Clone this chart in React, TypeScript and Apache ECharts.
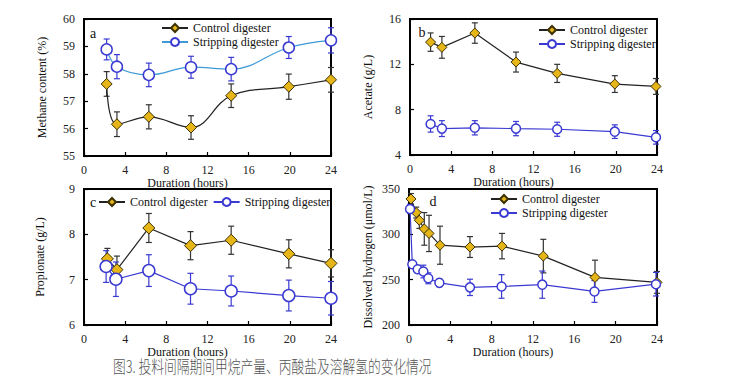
import React, { useEffect, useRef } from "react";
import * as echarts from "echarts";

// ---- Data ----
const xTicks = [0, 4, 8, 12, 16, 20, 24];

// Panel a: methane content (%)
const methaneCtrlX = [2.2, 3.2, 6.3, 10.4, 14.3, 19.9, 24];
const methaneCtrl = [57.63, 56.16, 56.43, 56.04, 57.2, 57.53, 57.78];
const methaneCtrlErr = [0.45, 0.45, 0.44, 0.43, 0.43, 0.46, 0.45];
const methaneStripX = [2.2, 3.2, 6.3, 10.4, 14.3, 19.9, 24];
const methaneStrip = [58.89, 58.26, 57.96, 58.24, 58.17, 58.96, 59.22];
const methaneStripErr = [0.38, 0.44, 0.43, 0.4, 0.43, 0.4, 0.46];

// Panel b: acetate (g/L)
const acetateCtrlX = [2.0, 3.1, 6.3, 10.3, 14.3, 19.9, 23.9];
const acetateCtrl = [13.96, 13.5, 14.76, 12.2, 11.2, 10.26, 10.05];
const acetateCtrlErr = [0.81, 0.96, 0.9, 0.88, 0.8, 0.74, 0.7];
const acetateStripX = [2.0, 3.1, 6.3, 10.3, 14.3, 19.9, 23.9];
const acetateStrip = [6.74, 6.33, 6.4, 6.33, 6.27, 6.06, 5.56];
const acetateStripErr = [0.72, 0.7, 0.63, 0.63, 0.62, 0.6, 0.6];

// Panel c: propionate (g/L)
const propCtrlX = [2.27, 3.2, 6.3, 10.35, 14.3, 19.9, 24];
const propCtrl = [7.46, 7.22, 8.14, 7.75, 7.87, 7.57, 7.36];
const propCtrlErr = [0.23, 0.3, 0.32, 0.31, 0.31, 0.31, 0.3];
const propStripX = [2.15, 3.1, 6.3, 10.35, 14.3, 19.9, 24];
const propStrip = [7.29, 7.01, 7.2, 6.8, 6.75, 6.65, 6.59];
const propStripErr = [0.35, 0.38, 0.35, 0.34, 0.33, 0.34, 0.37];

// Panel d: dissolved hydrogen (umol/L)
const h2CtrlX = [0.19, 0.7, 1.0, 1.48, 1.94, 3.0, 5.9, 9.0, 13.0, 18.0, 24];
const h2Ctrl = [339, 324, 315.5, 306, 301, 288, 286, 287, 276, 252.5, 247];
const h2CtrlErr = [6, 6, 9, 18, 20, 21, 11.5, 14, 18.5, 19, 12];
const h2StripX = [0.1, 0.32, 0.84, 1.39, 1.87, 2.94, 5.9, 8.96, 12.9, 17.95, 23.9];
const h2Strip = [328, 267, 261.5, 259, 251.5, 246.5, 241.5, 242.5, 244.5, 237, 245];
const h2StripErr = [5, 3, 4, 7, 6, 4, 9, 13, 15, 12, 13];

const CTRL = "Control digester";
const STRIP = "Stripping digester";
const caption = "图3. 投料间隔期间甲烷产量、丙酸盐及溶解氢的变化情况";

const SERIF = "Liberation Serif";
const GOLD = "#e6b619";
const DIAMOND_BORDER = "#3b3000";
const BLUE = "#3a3ad2";
const LIGHTBLUE = "#3d9ad6";

const zip = (xs: number[], ys: number[]) => xs.map((x, i) => [x, ys[i]]);
const zip3 = (xs: number[], ys: number[], es: number[]) =>
  xs.map((x, i) => [x, ys[i], es[i]]);

function errSeries(idx: number, xs: number[], ys: number[], es: number[], color: string) {
  return {
    type: "custom",
    xAxisIndex: idx,
    yAxisIndex: idx,
    z: 1,
    silent: true,
    clip: false,
    encode: { x: 0, y: 1 },
    data: zip3(xs, ys, es),
    renderItem: (_p: any, api: any) => {
      const x = api.value(0);
      const y = api.value(1);
      const e = api.value(2);
      const lo = api.coord([x, y - e]);
      const hi = api.coord([x, y + e]);
      const cap = 3;
      const st = { stroke: color, lineWidth: 1.2 };
      return {
        type: "group",
        children: [
          { type: "line", shape: { x1: lo[0], y1: lo[1], x2: hi[0], y2: hi[1] }, style: st },
          { type: "line", shape: { x1: lo[0] - cap, y1: lo[1], x2: lo[0] + cap, y2: lo[1] }, style: st },
          { type: "line", shape: { x1: hi[0] - cap, y1: hi[1], x2: hi[0] + cap, y2: hi[1] }, style: st },
        ],
      };
    },
  };
}

function ctrlLine(idx: number, xs: number[], ys: number[], size: number, smooth: any) {
  return {
    name: CTRL,
    type: "line",
    xAxisIndex: idx,
    yAxisIndex: idx,
    z: 3,
    clip: false,
    smooth,
    symbol: "diamond",
    symbolSize: size,
    lineStyle: { color: "#222", width: 1.2 },
    itemStyle: { color: GOLD, borderColor: DIAMOND_BORDER, borderWidth: 1 },
    data: zip(xs, ys),
  };
}

function stripLine(idx: number, xs: number[], ys: number[], size: number, smooth: any, lineColor: string) {
  return {
    name: STRIP,
    type: "line",
    xAxisIndex: idx,
    yAxisIndex: idx,
    z: 3,
    clip: false,
    smooth,
    symbol: "circle",
    symbolSize: size,
    lineStyle: { color: lineColor, width: 1.2 },
    itemStyle: { color: "#fff", borderColor: BLUE, borderWidth: 1.5 },
    data: zip(xs, ys),
  };
}

function xAxisFor(idx: number) {
  return {
    type: "value",
    gridIndex: idx,
    min: 0,
    max: 24,
    interval: 4,
    name: "Duration (hours)",
    nameLocation: "middle",
    nameGap: 15,
    nameTextStyle: { fontFamily: SERIF, fontSize: 12, color: "#111", padding: [0, 40, 0, 0] },
    axisLine: { show: false },
    axisTick: { show: true, inside: true, length: 4, lineStyle: { color: "#000", width: 1.2 } },
    axisLabel: { fontFamily: SERIF, fontSize: 12, color: "#222", margin: 8 },
    splitLine: { show: false },
  };
}

function yAxisFor(idx: number, name: string, min: number, max: number, interval: number, gap: number) {
  return {
    type: "value",
    gridIndex: idx,
    min,
    max,
    interval,
    name,
    nameLocation: "middle",
    nameGap: gap,
    nameTextStyle: { fontFamily: SERIF, fontSize: 12, color: "#111" },
    axisLine: { show: false },
    axisTick: { show: true, inside: true, length: 4, lineStyle: { color: "#000", width: 1.2 } },
    axisLabel: { fontFamily: SERIF, fontSize: 12, color: "#222", margin: 9 },
    splitLine: { show: false },
  };
}

const gridBase = { show: true, borderColor: "#000", borderWidth: 2, backgroundColor: "transparent" };

function legendFor(left: number, top: number, orient: string, stripColor: string, gap: number) {
  return {
    left,
    top,
    orient,
    itemWidth: 26,
    itemHeight: 10,
    itemGap: gap,
    padding: 0,
    textStyle: { fontFamily: SERIF, fontSize: 12, color: "#111" },
    data: [
      { name: CTRL, lineStyle: { color: "#222" } },
      { name: STRIP, lineStyle: { color: stripColor } },
    ],
  };
}

function panelLetter(text: string, x: number, y: number) {
  return {
    type: "text",
    x,
    y,
    style: {
      text,
      fontFamily: SERIF,
      fontSize: 14,
      fill: "#111",
      textAlign: "center",
      textVerticalAlign: "middle",
    },
  };
}

export default function App() {
  const ref = useRef<HTMLDivElement>(null);

  useEffect(() => {
    if (!ref.current) return;
    const chart = echarts.init(ref.current, null, { renderer: "svg" });
    const option: any = {
      animation: false,
      backgroundColor: "#fff",
      textStyle: { fontFamily: SERIF },
      grid: [
        { ...gridBase, left: 84, top: 19, width: 247, height: 137 },
        { ...gridBase, left: 410, top: 19, width: 247, height: 136 },
        { ...gridBase, left: 84, top: 189, width: 247, height: 136 },
        { ...gridBase, left: 409, top: 189, width: 248, height: 136 },
      ],
      xAxis: [xAxisFor(0), xAxisFor(1), xAxisFor(2), xAxisFor(3)],
      yAxis: [
        yAxisFor(0, "Methane content (%)", 55, 60, 1, 36),
        yAxisFor(1, "Acetate (g/L)", 4, 16, 4, 36),
        yAxisFor(2, "Propionate (g/L)", 6, 9, 1, 38),
        yAxisFor(3, "Dissolved hydrogen (μmol/L)", 200, 350, 50, 35),
      ],
      legend: [
        legendFor(161, 22, "vertical", LIGHTBLUE, 2),
        legendFor(538, 24, "vertical", BLUE, 2),
        legendFor(98, 196, "horizontal", BLUE, 5),
        legendFor(490, 193, "vertical", BLUE, 2),
      ],
      graphic: [
        panelLetter("a", 93, 33),
        panelLetter("b", 422, 32),
        panelLetter("c", 93, 202),
        panelLetter("d", 433, 201),
        {
          type: "text",
          x: 113,
          y: 357,
          scaleX: 0.75,
          style: {
            text: caption,
            fontFamily: "Noto Sans CJK SC",
            fontSize: 17,
            fontWeight: 300,
            fill: "#555",
            textAlign: "left",
            textVerticalAlign: "top",
          },
        },
      ],
      series: [
        ctrlLine(0, methaneCtrlX, methaneCtrl, 11, 0.4),
        stripLine(0, methaneStripX, methaneStrip, 11, 0.4, LIGHTBLUE),
        errSeries(0, methaneCtrlX, methaneCtrl, methaneCtrlErr, "#333"),
        errSeries(0, methaneStripX, methaneStrip, methaneStripErr, BLUE),

        ctrlLine(1, acetateCtrlX, acetateCtrl, 10, false),
        stripLine(1, acetateStripX, acetateStrip, 9, false, BLUE),
        errSeries(1, acetateCtrlX, acetateCtrl, acetateCtrlErr, "#333"),
        errSeries(1, acetateStripX, acetateStrip, acetateStripErr, BLUE),

        ctrlLine(2, propCtrlX, propCtrl, 12, false),
        stripLine(2, propStripX, propStrip, 12, false, BLUE),
        errSeries(2, propCtrlX, propCtrl, propCtrlErr, "#333"),
        errSeries(2, propStripX, propStrip, propStripErr, BLUE),

        ctrlLine(3, h2CtrlX, h2Ctrl, 10, false),
        stripLine(3, h2StripX, h2Strip, 9, false, BLUE),
        errSeries(3, h2CtrlX, h2Ctrl, h2CtrlErr, "#333"),
        errSeries(3, h2StripX, h2Strip, h2StripErr, BLUE),
      ],
    };
    chart.setOption(option);
    return () => chart.dispose();
  }, []);

  return (
    <div
      ref={ref}
      style={{ position: "absolute", left: 0, top: 0, width: 741, height: 378 }}
    />
  );
}
